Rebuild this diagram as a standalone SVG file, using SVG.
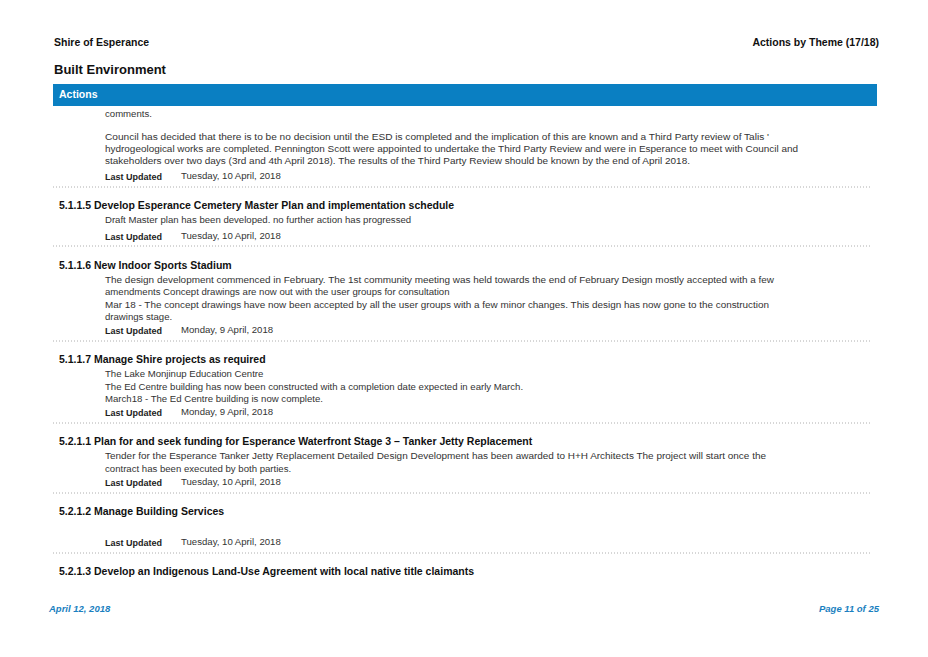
<svg xmlns="http://www.w3.org/2000/svg" width="928" height="657" viewBox="0 0 928 657" xml:space="preserve">
<style>
text{font-family:"Liberation Sans",Arial,sans-serif;}
.h{font-size:10.5px;font-weight:bold;fill:#111;}
.b{font-size:9.6px;fill:#333;}
.lu{font-size:9px;font-weight:bold;fill:#222;}
.dot{stroke:#999;stroke-width:0.8;stroke-dasharray:1 2;}
.ft{font-size:9.5px;font-weight:bold;font-style:italic;fill:#1a7fc0;}
</style>
<rect width="928" height="657" fill="#fff"/>
<text x="54" y="46" class="h">Shire of Esperance</text>
<text x="879" y="46" class="h" text-anchor="end">Actions by Theme  (17/18)</text>
<text x="54" y="74" style="font-size:13px;font-weight:bold;fill:#111">Built Environment</text>
<rect x="53" y="84" width="824" height="22" fill="#0a7fc2"/>
<text x="59" y="98" style="font-size:10.5px;font-weight:bold;fill:#fff">Actions</text>
<g id="n0">
<text x="105" y="117" class="b">comments.</text>
<text x="105" y="140" class="b" textLength="664" lengthAdjust="spacingAndGlyphs">Council has decided that there is to be no decision until the ESD is completed and the implication of this are known and a Third Party review of Talis '</text>
<text x="105" y="152" class="b" textLength="693" lengthAdjust="spacingAndGlyphs">hydrogeological works are completed.  Pennington Scott were appointed to undertake the Third Party Review and were in Esperance to meet with Council and</text>
<text x="105" y="164" class="b" textLength="585" lengthAdjust="spacingAndGlyphs">stakeholders over two days (3rd and 4th April 2018).  The results of the Third Party Review should be known by the end of April 2018.</text>
<text x="105" y="180" class="lu">Last Updated</text><text x="181" y="179" class="b">Tuesday, 10 April, 2018</text>
</g>
<g id="n1">
<text x="59" y="209" class="h">5.1.1.5  Develop Esperance Cemetery Master Plan and implementation schedule</text>
<text x="105" y="223" class="b">Draft Master plan has been developed. no further action has progressed</text>
<text x="105" y="240" class="lu">Last Updated</text><text x="181" y="239" class="b">Tuesday, 10 April, 2018</text>
</g>
<g id="n2">
<text x="59" y="269" class="h">5.1.1.6  New Indoor Sports Stadium</text>
<text x="105" y="283" class="b" textLength="669" lengthAdjust="spacingAndGlyphs">The design development commenced in February. The 1st community meeting was held towards the end of February  Design mostly accepted with a few</text>
<text x="105" y="295" class="b">amendments  Concept drawings are now out with the user groups for consultation</text>
<text x="105" y="308" class="b" textLength="664" lengthAdjust="spacingAndGlyphs">Mar 18 - The concept drawings have now been accepted by all the user groups with a few minor changes. This design has now gone to the construction</text>
<text x="105" y="320" class="b">drawings stage.</text>
<text x="105" y="334" class="lu">Last Updated</text><text x="181" y="333" class="b">Monday, 9 April, 2018</text>
</g>
<g id="n3">
<text x="59" y="363" class="h">5.1.1.7  Manage Shire projects as required</text>
<text x="105" y="377" class="b">The Lake Monjinup Education Centre</text>
<text x="105" y="390" class="b">The Ed Centre building has now been constructed with a completion date expected in early March.</text>
<text x="105" y="402" class="b">March18 -  The Ed Centre building is now complete.</text>
<text x="105" y="416" class="lu">Last Updated</text><text x="181" y="415" class="b">Monday, 9 April, 2018</text>
</g>
<g id="n4">
<text x="59" y="445" class="h">5.2.1.1  Plan for and seek funding for  Esperance Waterfront Stage 3 – Tanker Jetty Replacement</text>
<text x="105" y="459" class="b" textLength="661" lengthAdjust="spacingAndGlyphs">Tender for the Esperance Tanker Jetty Replacement Detailed Design Development has been awarded to H+H Architects  The project will start once the</text>
<text x="105" y="472" class="b">contract has been executed by both parties.</text>
<text x="105" y="486" class="lu">Last Updated</text><text x="181" y="485" class="b">Tuesday, 10 April, 2018</text>
</g>
<g id="n5">
<text x="59" y="515" class="h">5.2.1.2  Manage Building Services</text>
<text x="105" y="546" class="lu">Last Updated</text><text x="181" y="545" class="b">Tuesday, 10 April, 2018</text>
</g>
<g id="n6">
<text x="59" y="575" class="h">5.2.1.3  Develop an Indigenous Land-Use Agreement with local native title claimants</text>
</g>
<g id="connectors">
<line x1="53" y1="187" x2="870" y2="187" class="dot"/>
<line x1="53" y1="246" x2="870" y2="246" class="dot"/>
<line x1="53" y1="341" x2="870" y2="341" class="dot"/>
<line x1="53" y1="423" x2="870" y2="423" class="dot"/>
<line x1="53" y1="493" x2="870" y2="493" class="dot"/>
<line x1="53" y1="553" x2="870" y2="553" class="dot"/>
</g>
<text x="49" y="612" class="ft">April 12, 2018</text>
<text x="879" y="612" class="ft" text-anchor="end">Page 11 of 25</text>
</svg>
